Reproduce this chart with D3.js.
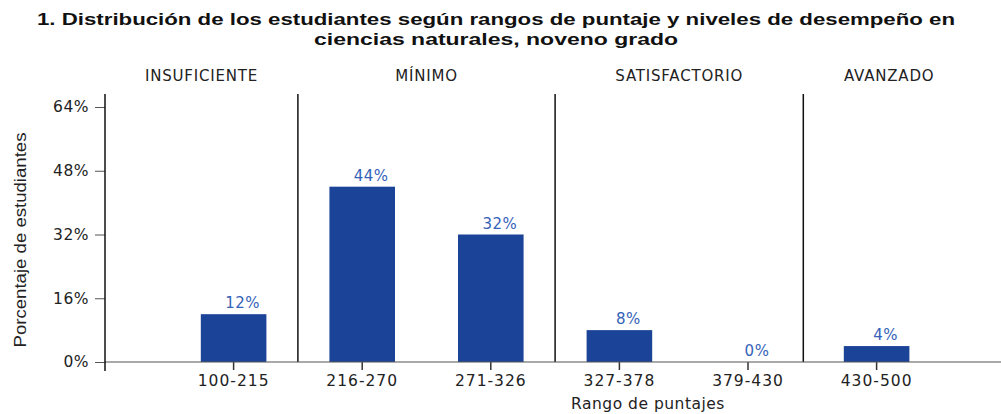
<!DOCTYPE html>
<html>
<head>
<meta charset="utf-8">
<script src="https://cdn.jsdelivr.net/npm/d3@7"></script>
<style>
  body { margin: 0; background: #fff; }
  svg text { font-family: "DejaVu Sans", Verdana, sans-serif; }
</style>
</head>
<body>
<div id="chart"></div>
<script>
const categories = ["100-215", "216-270", "271-326", "327-378", "379-430", "430-500"];
const values = [12, 44, 32, 8, 0, 4];
const yTicks = [0, 16, 32, 48, 64];
const levels = ["INSUFICIENTE", "MÍNIMO", "SATISFACTORIO", "AVANZADO"];
// index of the first category of each level
const levelStarts = [0, 1, 3, 5];
const titleLines = [
    "1. Distribución de los estudiantes según rangos de puntaje y niveles de desempeño en",
    "ciencias naturales, noveno grado"
];

const W = 1001, H = 414;
const axisX = 105, baseY = 362, topY = 107;
const step = 128.6;

const svg = d3.select("#chart").append("svg")
    .attr("width", W)
    .attr("height", H);

const x = d3.scaleBand()
    .domain(categories)
    .range([axisX + step * 0.5, axisX + step * 6.5])
    .paddingInner(0.49)
    .paddingOuter(0.245);

const y = d3.scaleLinear()
    .domain([0, 64])
    .range([baseY, topY]);

// title
svg.append("g").selectAll("text")
    .data(titleLines)
    .enter().append("text")
    .attr("x", 496)
    .attr("y", (d, i) => 25 + i * 20)
    .attr("text-anchor", "middle")
    .attr("textLength", (d, i) => i === 0 ? 918 : 364)
    .attr("lengthAdjust", "spacingAndGlyphs")
    .style("font-family", "'Liberation Sans', Arial, sans-serif")
    .style("font-weight", "bold")
    .style("font-size", "16px")
    .attr("fill", "#111")
    .text(d => d);

// level dividers
const dividerX = [0.5, 0.5, 0.43].map((f, i) => {
    const c = categories[levelStarts[i + 1] - 1];
    return x(c) + x.bandwidth() / 2 + step * f;
});
svg.append("g").selectAll("line")
    .data(dividerX)
    .enter().append("line")
    .attr("x1", d => d).attr("x2", d => d)
    .attr("y1", 94).attr("y2", baseY)
    .attr("stroke", "#111")
    .attr("stroke-width", 1.5);

const bounds = [axisX].concat(dividerX, [975]);
svg.append("g").selectAll("text")
    .data(levels)
    .enter().append("text")
    .attr("x", (d, i) => (bounds[i] + bounds[i + 1]) / 2)
    .attr("y", 81)
    .attr("text-anchor", "middle")
    .style("font-size", "15px")
    .style("letter-spacing", "0.8px")
    .attr("fill", "#222")
    .text(d => d);

// bars
svg.append("g").selectAll("rect")
    .data(values)
    .enter().append("rect")
    .attr("x", (d, i) => x(categories[i]))
    .attr("y", d => y(d))
    .attr("width", x.bandwidth())
    .attr("height", d => baseY - y(d))
    .attr("fill", "#1b4397");

svg.append("g").selectAll("text")
    .data(values)
    .enter().append("text")
    .attr("x", (d, i) => x(categories[i]) + x.bandwidth() / 2 + 9)
    .attr("y", d => y(d) - 6)
    .attr("text-anchor", "middle")
    .style("font-size", "15px")
    .style("letter-spacing", "0.5px")
    .attr("fill", "#3562b8")
    .text(d => d + "%");

// x axis
const xAxis = svg.append("g")
    .attr("transform", `translate(0,${baseY})`)
    .call(d3.axisBottom(x).tickSize(8).tickPadding(5));
xAxis.select(".domain").remove();
xAxis.append("line")
    .attr("x1", axisX).attr("x2", W)
    .attr("stroke", "#555").attr("stroke-width", 1.2);
xAxis.selectAll(".tick line").attr("stroke", "#333").attr("stroke-width", 1.5);
xAxis.selectAll(".tick text")
    .style("font-size", "15.5px")
    .style("letter-spacing", "1px")
    .attr("fill", "#222");

// y axis
const yAxis = svg.append("g")
    .attr("transform", `translate(${axisX},0)`)
    .call(d3.axisLeft(y).tickValues(yTicks).tickSize(10).tickPadding(6)
        .tickFormat(d => d + "%"));
yAxis.select(".domain").remove();
yAxis.append("line")
    .attr("y1", 94).attr("y2", 371)
    .attr("stroke", "#111").attr("stroke-width", 1.5);
yAxis.selectAll(".tick line").attr("stroke", "#555");
yAxis.selectAll(".tick text")
    .style("font-size", "15.5px")
    .style("letter-spacing", "0.5px")
    .attr("fill", "#222");

// axis titles
svg.append("text")
    .attr("x", 648)
    .attr("y", 409)
    .attr("text-anchor", "middle")
    .style("font-size", "15.5px")
    .style("letter-spacing", "0.5px")
    .attr("fill", "#222")
    .text("Rango de puntajes");

svg.append("text")
    .attr("transform", "translate(26,240) rotate(-90)")
    .attr("text-anchor", "middle")
    .attr("textLength", 215)
    .attr("lengthAdjust", "spacingAndGlyphs")
    .style("font-family", "'Liberation Sans', Arial, sans-serif")
    .style("font-size", "17px")
    .attr("fill", "#222")
    .text("Porcentaje de estudiantes");
</script>
</body>
</html>
